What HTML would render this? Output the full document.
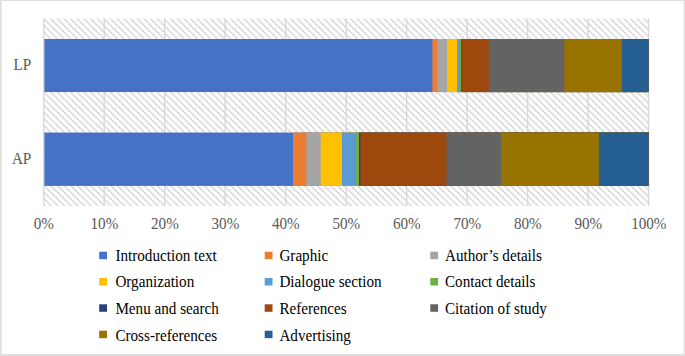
<!DOCTYPE html>
<html lang="en"><head><meta charset="utf-8"><title>Chart</title>
<style>
html,body{margin:0;padding:0;background:#fff;}
body{width:685px;height:356px;overflow:hidden;position:relative;}
svg{position:absolute;left:0;top:0;display:block;}
text{font-family:"Liberation Serif","Times New Roman",serif;}
.ax{font-size:16px;fill:#595959;}
.lg{font-size:16px;fill:#000;}
</style></head><body>
<svg width="685" height="356" viewBox="0 0 685 356">
<defs>
<pattern id="h" width="6.667" height="6.667" patternUnits="userSpaceOnUse" x="43.7" y="18.5">
<g fill="#c2c2c2">
<rect x="0.1" y="0.1" width="1.55" height="1.55"/>
<rect x="1.767" y="1.767" width="1.55" height="1.55"/>
<rect x="3.433" y="3.433" width="1.55" height="1.55"/>
<rect x="5.1" y="5.1" width="1.55" height="1.55"/>
</g>
</pattern>
</defs>
<rect x="0" y="0" width="685" height="356" fill="#fff"/>

<rect x="0" y="0" width="685" height="1" fill="#dedede"/>
<rect x="0" y="0" width="1.7" height="356" fill="#dedede"/>
<rect x="683.6" y="0" width="1.4" height="356" fill="#dedede"/>
<rect x="0" y="353.9" width="685" height="2.1" fill="#dedede"/>
<rect x="43.7" y="18.5" width="604.90" height="187.5" fill="url(#h)"/>
<rect x="43.00" y="18.5" width="1.4" height="187.5" fill="#d8d8d8"/>
<rect x="103.49" y="18.5" width="1.4" height="187.5" fill="#d8d8d8"/>
<rect x="163.98" y="18.5" width="1.4" height="187.5" fill="#d8d8d8"/>
<rect x="224.47" y="18.5" width="1.4" height="187.5" fill="#d8d8d8"/>
<rect x="284.96" y="18.5" width="1.4" height="187.5" fill="#d8d8d8"/>
<rect x="345.45" y="18.5" width="1.4" height="187.5" fill="#d8d8d8"/>
<rect x="405.94" y="18.5" width="1.4" height="187.5" fill="#d8d8d8"/>
<rect x="466.43" y="18.5" width="1.4" height="187.5" fill="#d8d8d8"/>
<rect x="526.92" y="18.5" width="1.4" height="187.5" fill="#d8d8d8"/>
<rect x="587.41" y="18.5" width="1.4" height="187.5" fill="#d8d8d8"/>
<rect x="647.90" y="18.5" width="1.4" height="187.5" fill="#d8d8d8"/>
<rect x="44.40" y="39.0" width="604.20" height="53.05" fill="#4472C4"/>
<rect x="432.40" y="39.0" width="216.20" height="53.05" fill="#ED7D31"/>
<rect x="437.20" y="39.0" width="211.40" height="53.05" fill="#A5A5A5"/>
<rect x="447.00" y="39.0" width="201.60" height="53.05" fill="#FFC000"/>
<rect x="457.10" y="39.0" width="191.50" height="53.05" fill="#5B9BD5"/>
<rect x="460.00" y="39.0" width="188.60" height="53.05" fill="#70AD47"/>
<rect x="461.00" y="39.0" width="187.60" height="53.05" fill="#264478"/>
<rect x="461.20" y="39.0" width="187.40" height="53.05" fill="#9E480E"/>
<rect x="488.80" y="39.0" width="159.80" height="53.05" fill="#636363"/>
<rect x="564.30" y="39.0" width="84.30" height="53.05" fill="#997300"/>
<rect x="621.90" y="39.0" width="26.70" height="53.05" fill="#255E91"/>
<rect x="44.40" y="132.55" width="604.20" height="53.35" fill="#4472C4"/>
<rect x="293.00" y="132.55" width="355.60" height="53.35" fill="#ED7D31"/>
<rect x="306.30" y="132.55" width="342.30" height="53.35" fill="#A5A5A5"/>
<rect x="320.70" y="132.55" width="327.90" height="53.35" fill="#FFC000"/>
<rect x="342.00" y="132.55" width="306.60" height="53.35" fill="#5B9BD5"/>
<rect x="356.00" y="132.55" width="292.60" height="53.35" fill="#70AD47"/>
<rect x="359.00" y="132.55" width="289.60" height="53.35" fill="#264478"/>
<rect x="360.40" y="132.55" width="288.20" height="53.35" fill="#9E480E"/>
<rect x="446.50" y="132.55" width="202.10" height="53.35" fill="#636363"/>
<rect x="501.00" y="132.55" width="147.60" height="53.35" fill="#997300"/>
<rect x="598.90" y="132.55" width="49.70" height="53.35" fill="#255E91"/>
<text class="ax" transform="translate(43.90,228.9) scale(0.947,1)" text-anchor="middle">0%</text>
<text class="ax" transform="translate(104.39,228.9) scale(0.947,1)" text-anchor="middle">10%</text>
<text class="ax" transform="translate(164.88,228.9) scale(0.947,1)" text-anchor="middle">20%</text>
<text class="ax" transform="translate(225.37,228.9) scale(0.947,1)" text-anchor="middle">30%</text>
<text class="ax" transform="translate(285.86,228.9) scale(0.947,1)" text-anchor="middle">40%</text>
<text class="ax" transform="translate(346.35,228.9) scale(0.947,1)" text-anchor="middle">50%</text>
<text class="ax" transform="translate(406.84,228.9) scale(0.947,1)" text-anchor="middle">60%</text>
<text class="ax" transform="translate(467.33,228.9) scale(0.947,1)" text-anchor="middle">70%</text>
<text class="ax" transform="translate(527.82,228.9) scale(0.947,1)" text-anchor="middle">80%</text>
<text class="ax" transform="translate(588.31,228.9) scale(0.947,1)" text-anchor="middle">90%</text>
<text class="ax" transform="translate(648.80,228.9) scale(0.947,1)" text-anchor="middle">100%</text>
<text class="ax" transform="translate(31.3,70.2) scale(0.947,1)" text-anchor="end">LP</text>
<text class="ax" transform="translate(31.3,164.45) scale(0.947,1)" text-anchor="end">AP</text>
<rect x="99.2" y="251.7" width="7.8" height="7.5" fill="#4472C4"/>
<text class="lg" transform="translate(115.40,261.00) scale(0.947,1)">Introduction text</text>
<rect x="264.7" y="251.7" width="7.8" height="7.5" fill="#ED7D31"/>
<text class="lg" transform="translate(279.40,261.00) scale(0.947,1)">Graphic</text>
<rect x="430.3" y="251.7" width="7.8" height="7.5" fill="#A5A5A5"/>
<text class="lg" transform="translate(445.00,261.00) scale(0.947,1)">Author’s details</text>
<rect x="99.2" y="278.0" width="7.8" height="7.5" fill="#FFC000"/>
<text class="lg" transform="translate(115.40,287.30) scale(0.947,1)">Organization</text>
<rect x="264.7" y="278.0" width="7.8" height="7.5" fill="#5B9BD5"/>
<text class="lg" transform="translate(279.40,287.30) scale(0.947,1)">Dialogue section</text>
<rect x="430.3" y="278.0" width="7.8" height="7.5" fill="#70AD47"/>
<text class="lg" transform="translate(445.00,287.30) scale(0.947,1)">Contact details</text>
<rect x="99.2" y="304.3" width="7.8" height="7.5" fill="#264478"/>
<text class="lg" transform="translate(115.40,313.60) scale(0.947,1)">Menu and search</text>
<rect x="264.7" y="304.3" width="7.8" height="7.5" fill="#9E480E"/>
<text class="lg" transform="translate(279.40,313.60) scale(0.947,1)">References</text>
<rect x="430.3" y="304.3" width="7.8" height="7.5" fill="#636363"/>
<text class="lg" transform="translate(445.00,313.60) scale(0.947,1)">Citation of study</text>
<rect x="99.2" y="330.7" width="7.8" height="7.5" fill="#997300"/>
<text class="lg" transform="translate(115.40,341.15) scale(0.947,1)">Cross-references</text>
<rect x="264.7" y="330.7" width="7.8" height="7.5" fill="#255E91"/>
<text class="lg" transform="translate(279.40,341.15) scale(0.947,1)">Advertising</text>
</svg></body></html>
